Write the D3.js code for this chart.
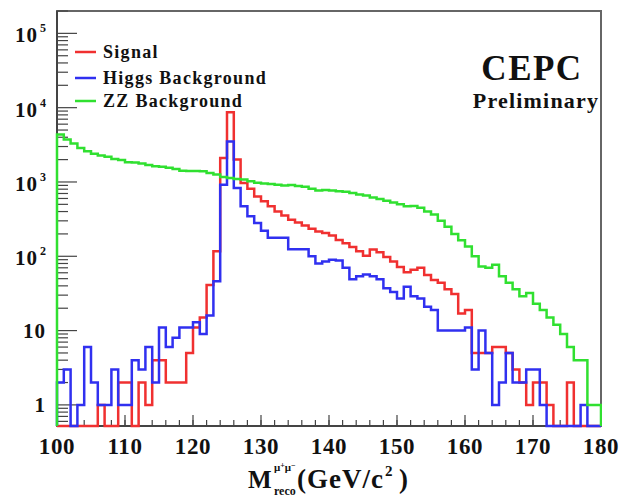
<!DOCTYPE html>
<html><head><meta charset="utf-8">
<script src="https://cdn.jsdelivr.net/npm/d3@7"></script>
<style>
body{margin:0;background:#fff}
svg{display:block}
text{font-family:"Liberation Serif","Times New Roman",serif;font-weight:bold;fill:#111}
</style>
</head><body><svg id="c" width="622" height="499"></svg>
<script>
// ---- data ----
const massMin = 100, massMax = 180, binWidth = 1;   // GeV, 80 bins
const signal = [0,0,0,0,0,0,1,0,0,2, 2,0,2,1,4,4,2,2,2,5,
  11,15,41,117,2100,8700,2000,970,810,640, 550,470,400,355,310,285,260,235,215,205,
  190,166,150,133,117,102,123,113,98,85, 72,61,66,70,56,48,44,36,31,17,
  19,5,5,5,6,6,5,3,2,1, 2,2,1,0,0,2,0,0,0,0];
const higgsBkg = [2,3,0,1,6,2,1,1,3,1, 1,4,3,6,2,11,6,8,11,11,
  13,9,16,46,920,3500,830,470,345,280, 220,178,178,178,124,124,124,100,80,85,
  90,88,70,49,54,57,54,49,37,33, 27,39,29,27,21,19,10,10,10,10,
  11,3,10,5,1,2,5,2,2,3, 3,1,0,0,0,0,0,1,0,0];
const zzBkg = [4360,3720,3300,2870,2600,2400,2270,2180,2040,1970,
  1850,1830,1770,1690,1630,1600,1550,1500,1420,1400,
  1400,1390,1320,1260,1170,1130,1100,1080,1020,975,
  955,940,920,895,910,880,860,810,770,780,
  770,750,740,710,680,660,620,590,560,530,
  500,470,475,450,400,365,300,250,200,165,
  135,100,73,70,77,54,44,36,29,32,
  23,19,15,12,9,6,4,4,1,1];
const xTickValues = [100,110,120,130,140,150,160,170,180];
const yTickExponents = [0,1,2,3,4,5];
const yDomain = [0.52, 2.0e5];
const legendLabels = ["Signal","Higgs Background","ZZ Background"];
const seriesColors = ["#f03030","#3030f0","#30e030"];

// ---- layout ----
const L = 57, R = 601, T = 11, B = 426;
const svg = d3.select("#c");
const x = d3.scaleLinear([massMin, massMax], [L, R]);
const y = d3.scaleLog(yDomain, [B, T]).clamp(true);

// frame
svg.append("rect").attr("x", L).attr("y", T).attr("width", R - L).attr("height", B - T)
  .attr("fill", "none").attr("stroke", "#666").attr("stroke-width", 2);

// y axis ticks
const yMinor = [];
for (let e = -1; e <= 5; e++) for (let k = 2; k <= 9; k++) {
  const v = k * Math.pow(10, e);
  if (v >= yDomain[0] && v <= yDomain[1]) yMinor.push(v);
}
svg.append("g").selectAll("line").data(yMinor).join("line")
  .attr("x1", L).attr("x2", L + 11).attr("y1", d => y(d)).attr("y2", d => y(d))
  .attr("stroke", "#444").attr("stroke-width", 1.2);
svg.append("g").selectAll("line").data(yTickExponents).join("line")
  .attr("x1", L).attr("x2", L + 20).attr("y1", d => y(Math.pow(10, d))).attr("y2", d => y(Math.pow(10, d)))
  .attr("stroke", "#444").attr("stroke-width", 1.2);

// y labels
const yl = svg.append("g");
yTickExponents.forEach(e => {
  const ty = y(Math.pow(10, e));
  if (e === 0) {
    yl.append("text").attr("x", 45).attr("y", ty + 7).attr("text-anchor", "end")
      .style("font-size", "21px").text("1");
  } else if (e === 1) {
    yl.append("text").attr("x", 46).attr("y", ty + 7).attr("text-anchor", "end")
      .style("font-size", "21px").attr("letter-spacing", 1).text("10");
  } else {
    yl.append("text").attr("x", 38).attr("y", ty + 9).attr("text-anchor", "end")
      .style("font-size", "21px").attr("letter-spacing", 1).text("10");
    yl.append("text").attr("x", 40).attr("y", ty - 1)
      .style("font-size", "12px").text(String(e));
  }
});

// x axis ticks
svg.append("g").selectAll("line").data(d3.range(massMin, massMax + 0.1, 2)).join("line")
  .attr("x1", d => x(d)).attr("x2", d => x(d)).attr("y1", B).attr("y2", B - 6)
  .attr("stroke", "#444").attr("stroke-width", 1.2);
svg.append("g").selectAll("line").data(xTickValues).join("line")
  .attr("x1", d => x(d)).attr("x2", d => x(d)).attr("y1", B).attr("y2", B - 11)
  .attr("stroke", "#444").attr("stroke-width", 1.2);
svg.append("g").selectAll("text").data(xTickValues).join("text")
  .attr("x", d => x(d)).attr("y", 454).attr("text-anchor", "middle")
  .style("font-size", "23px").attr("letter-spacing", 0.6).text(d => d);

// axis lines (darker)
svg.append("line").attr("x1", L).attr("x2", L).attr("y1", T).attr("y2", B).attr("stroke", "#444").attr("stroke-width", 2);
svg.append("line").attr("x1", L).attr("x2", R).attr("y1", B).attr("y2", B).attr("stroke", "#444").attr("stroke-width", 2);

// histograms
function stepPath(vals) {
  const pts = [[x(massMin), y(yDomain[0])]];
  vals.forEach((v, i) => {
    const lo = massMin + i * binWidth, hi = lo + binWidth;
    const yy = v > 0 ? y(v) : y(yDomain[0]);
    pts.push([x(lo), yy], [x(hi), yy]);
  });
  pts.push([x(massMax), y(yDomain[0])]);
  return d3.line()(pts);
}
svg.append("clipPath").attr("id", "clip").append("rect")
  .attr("x", L - 2).attr("y", T).attr("width", R - L + 3).attr("height", B - T + 2);
const hg = svg.append("g").attr("clip-path", "url(#clip)");
[signal, higgsBkg, zzBkg].forEach((s, i) => {
  hg.append("path").attr("d", stepPath(s)).attr("fill", "none")
    .attr("stroke", seriesColors[i]).attr("stroke-width", 2.5).attr("stroke-linejoin", "miter");
});

// legend
const legendY = [52, 78, 101];
legendLabels.forEach((lab, i) => {
  svg.append("line").attr("x1", 75).attr("x2", 96).attr("y1", legendY[i]).attr("y2", legendY[i])
    .attr("stroke", seriesColors[i]).attr("stroke-width", 2.5);
  svg.append("text").attr("x", 103).attr("y", legendY[i] + 6)
    .style("font-size", "18px").attr("letter-spacing", 1.3).text(lab);
});

// CEPC Preliminary
svg.append("text").attr("x", 532).attr("y", 80).attr("text-anchor", "middle")
  .style("font-size", "35px").attr("letter-spacing", 1.5).text("CEPC");
svg.append("text").attr("x", 536).attr("y", 108).attr("text-anchor", "middle")
  .style("font-size", "22px").attr("letter-spacing", 1.2).text("Preliminary");

// x axis title: M^{μ+μ-}_{reco}(GeV/c^2)
const tg = svg.append("g");
tg.append("text").attr("x", 248).attr("y", 488).style("font-size", "25px").text("M");
const sup = tg.append("text").attr("x", 274).attr("y", 471).style("font-size", "11px");
sup.append("tspan").text("μ");
sup.append("tspan").attr("dy", -3).style("font-size", "8px").text("+");
sup.append("tspan").attr("dy", 3).text("μ");
sup.append("tspan").attr("dy", -3).style("font-size", "8px").text("−");
tg.append("text").attr("x", 274).attr("y", 495).style("font-size", "12px").text("reco");
tg.append("text").attr("x", 297).attr("y", 488).style("font-size", "27px").attr("letter-spacing", 1).text("(GeV/c");
tg.append("text").attr("x", 385).attr("y", 476).style("font-size", "15px").text("2");
tg.append("text").attr("x", 399).attr("y", 488).style("font-size", "27px").text(")");
</script>
</body></html>
